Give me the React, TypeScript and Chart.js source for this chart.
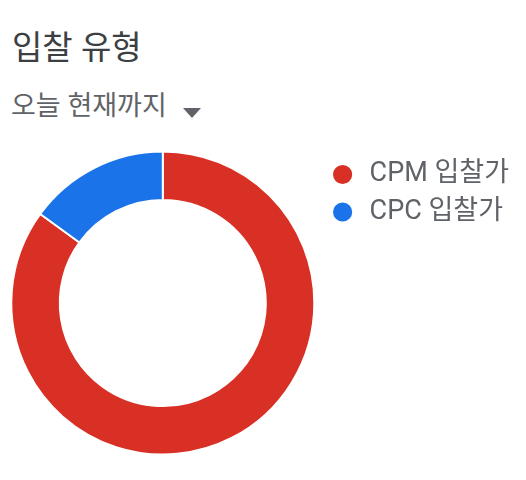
import { useEffect, useRef } from "react";
import { Chart, registerables } from "chart.js";
import type { ChartConfiguration } from "chart.js";

Chart.register(...registerables);

const TITLE = "입찰 유형";
const SUBTITLE = "오늘 현재까지";
const BID_TYPES = ["CPM 입찰가", "CPC 입찰가"];
const BID_SHARE = [85, 15];
const COLORS = ["#d93025", "#1a73e8"];

const FONT = 'Roboto, "Noto Sans CJK KR", sans-serif';

export default function App() {
  const canvasRef = useRef<HTMLCanvasElement | null>(null);

  useEffect(() => {
    const ctx = canvasRef.current!.getContext("2d")!;

    const config: ChartConfiguration<"doughnut", number[], string> = {
      type: "doughnut",
      data: {
        labels: BID_TYPES,
        datasets: [
          {
            data: BID_SHARE,
            backgroundColor: COLORS,
            borderColor: "#ffffff",
            borderWidth: 2,
          },
        ],
      },
      options: {
        responsive: true,
        maintainAspectRatio: false,
        animation: false,
        cutout: "68%",
        layout: { padding: { left: 7, top: 10.5, bottom: 4.5, right: 7 } },
        plugins: {
          legend: {
            position: "right",
            align: "start",
            labels: {
              usePointStyle: true,
              pointStyle: "circle",
              boxWidth: 27,
              boxHeight: 15,
              padding: 10.5,
              color: "#5f6368",
              font: { family: FONT, size: 27 },
            },
          },
          tooltip: { enabled: false },
        },
      },
    };

    const chart = new Chart(ctx, config);
    return () => chart.destroy();
  }, []);

  return (
    <div style={{ fontFamily: FONT }}>
      <div
        style={{
          position: "absolute",
          left: 12,
          top: 31,
          fontSize: 33,
          lineHeight: "33px",
          color: "#3c4043",
          whiteSpace: "nowrap",
        }}
      >
        {TITLE}
      </div>
      <div
        style={{
          position: "absolute",
          left: 11,
          top: 93,
          fontSize: 27,
          lineHeight: "27px",
          color: "#5f6368",
          whiteSpace: "nowrap",
          display: "flex",
          alignItems: "center",
        }}
      >
        {SUBTITLE}
        <span
          style={{
            display: "inline-block",
            marginLeft: 16,
            marginTop: 13,
            width: 0,
            height: 0,
            borderLeft: "9.5px solid transparent",
            borderRight: "9.5px solid transparent",
            borderTop: "10px solid #5f6368",
          }}
        />
      </div>
      <div style={{ position: "absolute", left: 0, top: 140, width: 526, height: 320 }}>
        <canvas ref={canvasRef} />
      </div>
    </div>
  );
}
